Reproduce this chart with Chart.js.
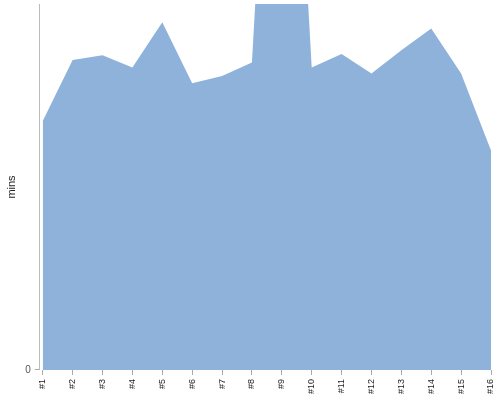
<!DOCTYPE html>
<html>
<head>
<meta charset="utf-8">
<script src="https://cdn.jsdelivr.net/npm/chart.js@4"></script>
<style>
  html, body { margin: 0; padding: 0; background: #fff; }
  #wrap { width: 500px; height: 400px; }
</style>
</head>
<body>
<div id="wrap"><canvas id="chart"></canvas></div>
<script>
// categories and values (minutes)
const labels = ["#1", "#2", "#3", "#4", "#5", "#6", "#7", "#8",
                "#9", "#10", "#11", "#12", "#13", "#14", "#15", "#16"];
const mins = [20.4, 25.4, 25.8, 24.8, 28.5, 23.5, 24.1, 25.2,
              68.7, 24.8, 25.9, 24.3, 26.2, 28.0, 24.3, 18.0];
const yMax = 30;

const points = mins.map((v, i) => ({ x: i + 1, y: v }));

new Chart(document.getElementById("chart"), {
    type: "line",
    data: {
        datasets: [{
            data: points,
            fill: "origin",
            backgroundColor: "#8fb2da",
            borderColor: "#8fb2da",
            borderWidth: 0,
            pointRadius: 0,
            tension: 0
        }]
    },
    options: {
        responsive: true,
        maintainAspectRatio: false,
        animation: false,
        layout: { padding: { top: 4, right: 9, left: 2, bottom: 2 } },
        plugins: {
            legend: { display: false },
            tooltip: { enabled: false }
        },
        scales: {
            x: {
                type: "linear",
                min: 0.9,
                max: 16,
                afterBuildTicks: (axis) => {
                    axis.ticks = labels.map((l, i) => ({ value: i + 1 }));
                },
                afterFit: (axis) => {
                    axis.paddingLeft = 0;
                    axis.paddingRight = 0;
                },
                ticks: {
                    callback: (v) => labels[v - 1],
                    maxRotation: 90,
                    minRotation: 90,
                    autoSkip: false,
                    padding: 4,
                    color: "#222",
                    font: { family: "Liberation Sans, Arial", size: 9 }
                },
                grid: {
                    drawOnChartArea: false,
                    tickLength: 5,
                    color: "#aaa"
                },
                border: { display: false }
            },
            y: {
                min: 0,
                max: yMax,
                afterBuildTicks: (axis) => {
                    axis.ticks = [{ value: 0 }];
                },
                afterFit: (axis) => {
                    axis.paddingTop = 0;
                },
                ticks: {
                    callback: (v) => (v === 0 ? "0" : ""),
                    color: "#555",
                    padding: 4,
                    font: { family: "Liberation Sans, Arial", size: 10 }
                },
                grid: {
                    drawOnChartArea: false,
                    tickLength: 5,
                    color: "#aaa"
                },
                border: { display: true, color: "#bbb", width: 1 },
                title: {
                    display: true,
                    text: "mins",
                    color: "#222",
                    padding: 3,
                    font: { family: "Liberation Sans, Arial", size: 11 }
                }
            }
        }
    }
});
</script>
</body>
</html>
